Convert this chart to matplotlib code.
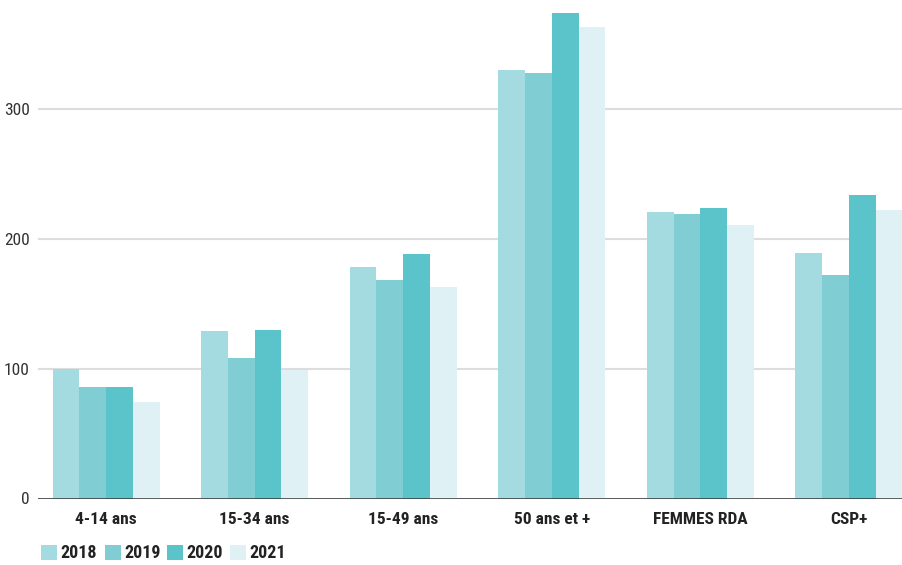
import matplotlib
matplotlib.use("Agg")
import matplotlib.pyplot as plt
import numpy as np
from matplotlib import font_manager
from matplotlib.patches import Rectangle

categories = ["4-14 ans", "15-34 ans", "15-49 ans", "50 ans et +", "FEMMES RDA", "CSP+"]
years = ["2018", "2019", "2020", "2021"]
values_2018 = [100, 129, 178, 330, 221, 189]
values_2019 = [86, 108, 168, 328, 219, 172]
values_2020 = [86, 130, 188, 374, 224, 234]
values_2021 = [74, 99, 163, 363, 211, 222]
colors = ["#a3dbe0", "#80ced4", "#5bc4ca", "#dff1f4"]


def pick_font():
    for name in ["Liberation Sans Narrow", "Roboto Condensed", "DejaVu Sans"]:
        try:
            font_manager.findfont(font_manager.FontProperties(family=name),
                                  fallback_to_default=False)
            return name
        except ValueError:
            continue
    return "DejaVu Sans"


FONT = pick_font()
plt.rcParams["font.family"] = FONT
plt.rcParams["font.stretch"] = "condensed"

W, H = 902, 565
fig = plt.figure(figsize=(W / 100, H / 100), dpi=100)
ax = fig.add_axes([38 / W, 66.5 / H, 864 / W, 498.5 / H])

series = [values_2018, values_2019, values_2020, values_2021]
x = np.arange(len(categories))
width = 0.18
for i, (vals, col) in enumerate(zip(series, colors)):
    ax.bar(x + (i - 1.5) * width, vals, width=width, color=col, zorder=3, linewidth=0)

ax.set_xlim(-0.458, 5.357)
ax.set_ylim(0, 384)
ax.set_yticks([0, 100, 200, 300])
ax.grid(axis="y", color="#dddddd", linewidth=1.5, zorder=0)
ax.axhline(0, color="#333333", linewidth=1.8, zorder=4)

for side in ["top", "right", "left", "bottom"]:
    ax.spines[side].set_visible(False)

ax.tick_params(axis="y", length=0, pad=6, labelsize=12.5, labelcolor="#333333")
ax.tick_params(axis="x", length=0, pad=10)
ax.set_xticks(x)
ax.set_xticklabels(categories, fontsize=12.5, fontweight="bold", color="#222222")

# legend drawn by hand at the bottom left
legend_x = [41, 105, 167, 230]
for lx, year, col in zip(legend_x, years, colors):
    fig.patches.append(Rectangle((lx / W, (H - 560) / H), 16 / W, 15 / H,
                                 facecolor=col, edgecolor="none",
                                 transform=fig.transFigure, figure=fig))
    fig.text((lx + 19) / W, (H - 552.5) / H, year, fontsize=13, fontweight="bold",
             color="#222222", va="center", ha="left")

fig.savefig("out.png", dpi=100)
